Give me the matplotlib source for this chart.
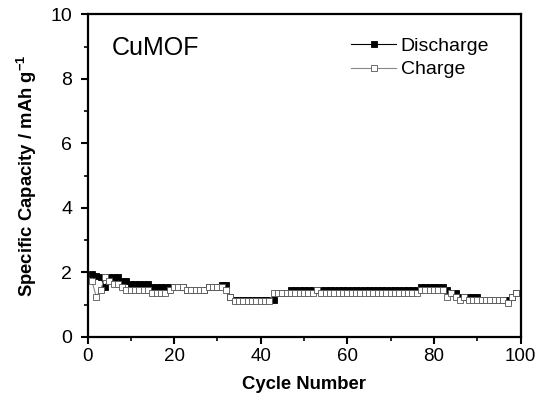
import matplotlib
matplotlib.use("Agg")
import matplotlib.pyplot as plt
from matplotlib.ticker import MultipleLocator

plt.rcParams['font.family'] = ['Liberation Sans', 'DejaVu Sans']
plt.rcParams['mathtext.fontset'] = 'custom'
plt.rcParams['mathtext.rm'] = 'Liberation Sans'
plt.rcParams['mathtext.bf'] = 'Liberation Sans:bold'

cycles = list(range(1, 100))
discharge = ([1.95, 1.90, 1.85, 1.55, 1.85, 1.85, 1.85, 1.75, 1.75]
             + [1.65] * 5 + [1.55] * 5 + [1.55] * 3 + [1.45] * 5 + [1.55] * 3
             + [1.60, 1.60, 1.25] + [1.15] * 9 + [1.15] + [1.35] * 3 + [1.45] * 6
             + [1.45] + [1.45] * 23 + [1.55] * 6
             + [1.45, 1.35, 1.35, 1.25, 1.25, 1.25, 1.25, 1.25]
             + [1.15] * 6 + [1.15, 1.25, 1.35])
charge = ([1.75, 1.25, 1.45, 1.85, 1.75, 1.65, 1.65, 1.55, 1.45]
          + [1.45] * 5 + [1.35] * 4 + [1.45] + [1.55] * 3 + [1.45] * 5 + [1.55] * 3
          + [1.55, 1.45, 1.25] + [1.12] * 9 + [1.35] + [1.35] * 3 + [1.35] * 6
          + [1.45] + [1.35] * 23 + [1.45] * 6
          + [1.25, 1.35, 1.25, 1.15, 1.25, 1.15, 1.15, 1.15]
          + [1.15] * 6 + [1.05, 1.25, 1.35])

fig = plt.figure(figsize=(5.35, 3.98), dpi=100)
ax = fig.add_axes([0.1636, 0.1533, 0.8093, 0.8103])

ax.plot(cycles, discharge, color='black', lw=0.8, marker='s', ms=3.9,
        mfc='black', mec='black', mew=0.6, label='Discharge', zorder=3)
ax.plot(cycles, charge, color='#888888', lw=0.8, marker='s', ms=3.9,
        mfc='white', mec='#555555', mew=0.6, label='Charge', zorder=4)

ax.set_xlim(0, 100)
ax.set_ylim(0, 10)
ax.xaxis.set_major_locator(MultipleLocator(20))
ax.xaxis.set_minor_locator(MultipleLocator(10))
ax.yaxis.set_major_locator(MultipleLocator(2))
ax.yaxis.set_minor_locator(MultipleLocator(1))
ax.tick_params(which='major', direction='out', length=5, width=1.5)
ax.tick_params(axis='y', which='major', pad=6, labelsize=14)
ax.tick_params(axis='x', which='major', pad=3, labelsize=13.5)
ax.tick_params(which='minor', direction='out', length=3, width=1.2)
for s in ax.spines.values():
    s.set_linewidth(1.6)

ax.set_xlabel('Cycle Number', fontsize=13.3, fontweight='bold', labelpad=8)
ax.set_ylabel(r'Specific Capacity / mAh g$^{\mathbf{-1}}$', fontsize=13.3,
              fontweight='bold', labelpad=8)

ax.text(5.5, 8.75, 'CuMOF', fontsize=18, ha='left', va='baseline')

leg = ax.legend(loc='upper right', bbox_to_anchor=(0.955, 0.965), frameon=False,
                fontsize=14, handlelength=2.3, handletextpad=0.25,
                labelspacing=0.3, borderaxespad=0.2)

fig.savefig('out.png', dpi=100)
